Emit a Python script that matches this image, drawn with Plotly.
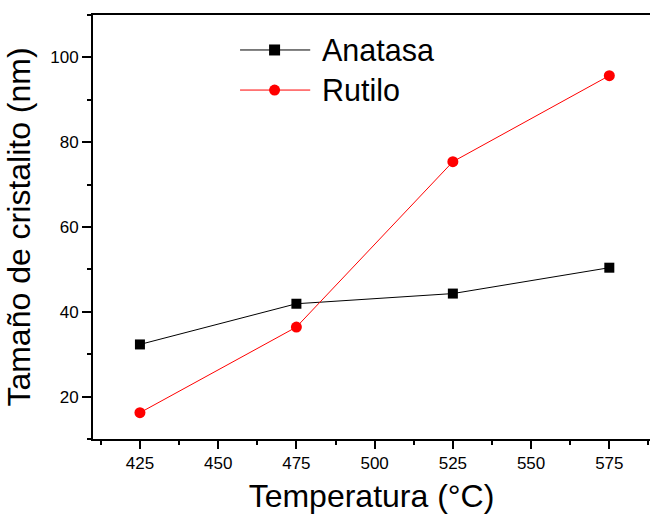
import plotly.graph_objects as go

# Crystallite size vs calcination temperature
temperatura = [425, 475, 525, 575]
anatasa = [32.3, 41.9, 44.3, 50.4]
rutilo = [16.2, 36.4, 75.4, 95.7]

x_ticks = [425, 450, 475, 500, 525, 550, 575]
y_ticks = [20, 40, 60, 80, 100]

FONT = "Liberation Sans, Arial, sans-serif"

fig = go.Figure()
fig.add_trace(go.Scatter(
    x=temperatura, y=anatasa, name="Anatasa", mode="lines+markers",
    line=dict(color="black", width=1),
    marker=dict(symbol="square", size=10, color="black"),
    showlegend=False,
))
fig.add_trace(go.Scatter(
    x=temperatura, y=rutilo, name="Rutilo", mode="lines+markers",
    line=dict(color="#ff0000", width=1),
    marker=dict(symbol="circle", size=11, color="#ff0000"),
    showlegend=False,
))

# Legend key drawn with shapes and text (long line samples)
legend_rows = [
    ("Anatasa", "black", "rect", 0.9175),
    ("Rutilo", "#ff0000", "circle", 0.823),
]
shapes = []
annotations = []
for label, color, sym, yp in legend_rows:
    shapes.append(dict(type="line", xref="paper", yref="paper",
                       x0=0.264, x1=0.39, y0=yp, y1=yp,
                       line=dict(color=color, width=1)))
    shapes.append(dict(type=sym, xref="paper", yref="paper",
                       xsizemode="pixel", ysizemode="pixel",
                       xanchor=0.326, yanchor=yp,
                       x0=-5.5, x1=5.5, y0=-5.5, y1=5.5,
                       fillcolor=color, line=dict(color=color, width=0)))
    annotations.append(dict(text=label, xref="paper", yref="paper",
                            x=0.4075, y=yp, xanchor="left", yanchor="middle",
                            showarrow=False,
                            font=dict(family=FONT, size=30.5, color="black")))

fig.update_layout(
    width=650, height=516,
    margin=dict(l=93, r=0, t=15, b=77),
    paper_bgcolor="white", plot_bgcolor="white",
    font=dict(family=FONT, color="black"),
    shapes=shapes, annotations=annotations,
    xaxis=dict(
        range=[410, 588], tickvals=x_ticks,
        showline=True, linecolor="black", linewidth=2, mirror=True,
        ticks="outside", ticklen=8, tickwidth=1.5, tickcolor="black",
        minor=dict(dtick=12.5, tick0=412.5, ticks="outside", ticklen=4,
                   tickwidth=1.5, tickcolor="black", showgrid=False),
        showgrid=False, zeroline=False,
        tickfont=dict(size=17),
        title=dict(text="Temperatura (°C)", font=dict(size=32), standoff=12),
    ),
    yaxis=dict(
        range=[10, 110], tickvals=y_ticks,
        showline=True, linecolor="black", linewidth=2,
        ticks="outside", ticklen=9, tickwidth=1.5, tickcolor="black",
        minor=dict(dtick=10, tick0=10, ticks="outside", ticklen=4,
                   tickwidth=1.5, tickcolor="black", showgrid=False),
        showgrid=False, zeroline=False,
        tickfont=dict(size=17),
        title=dict(text="Tamaño de cristalito (nm)", font=dict(size=32), standoff=10),
    ),
)

fig.write_html("out.html")
